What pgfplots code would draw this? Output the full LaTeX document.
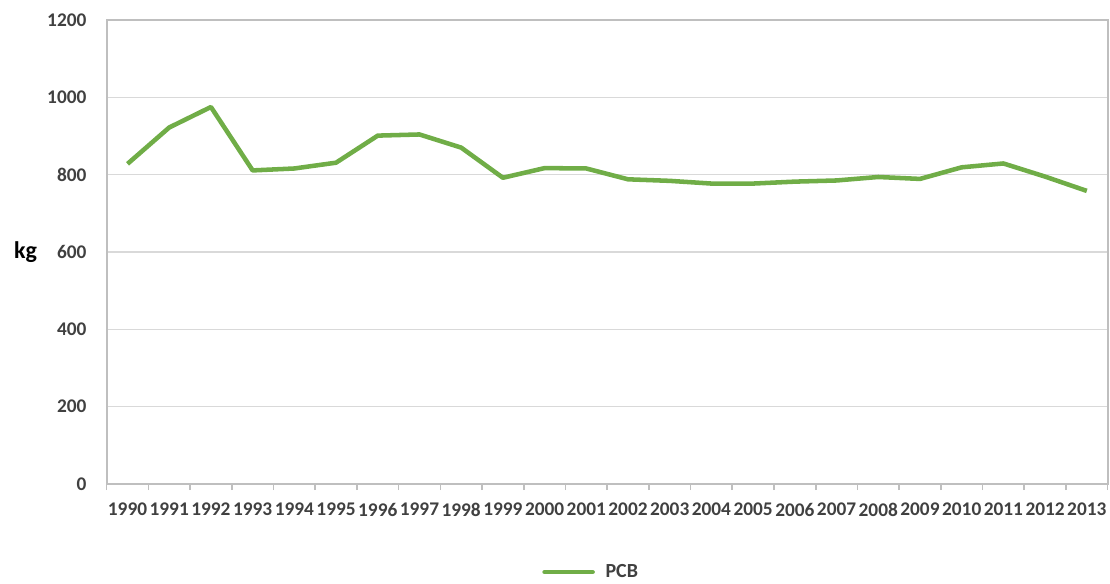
\documentclass[border=0pt]{standalone}
\usepackage{fontspec}
\setmainfont{Carlito}
\usepackage{pgfplots}
\pgfplotsset{compat=1.18}
\definecolor{pcbgreen}{HTML}{70AD47}
\definecolor{axgray}{HTML}{BFBFBF}
\definecolor{gridgray}{HTML}{D9D9D9}
\definecolor{labgray}{HTML}{404040}
\begin{document}
\begin{tikzpicture}[x=1pt,y=1pt]
\useasboundingbox (-80pt,-74.25pt) rectangle (752.5pt,363pt);
\begin{axis}[
  at={(0pt,0pt)}, anchor=south west,
  scale only axis,
  width=750.75pt, height=348pt,
  xmin=-0.5, xmax=23.5, ymin=0, ymax=1200,
  xtick={0,...,23},
  xticklabels={1990,1991,1992,1993,1994,1995,1996,1997,1998,1999,2000,2001,2002,2003,2004,2005,2006,2007,2008,2009,2010,2011,2012,2013},
  minor xtick={-0.5,0.5,...,23.5},
  ytick={0,200,...,1200},
  major tick length=0pt,
  minor tick length=4.5pt,
  xtick align=outside,
  tick pos=left,
  tick style={axgray, line width=1.2pt},
  axis line style={axgray, line width=1.5pt},
  ymajorgrids,
  grid style={gridgray, line width=1pt},
  /pgf/number format/assume math mode=true,
  /pgf/number format/1000 sep={},
  ticklabel style={font=\fontsize{14.5}{16}\selectfont\bfseries, text=labgray, inner sep=0pt},
  yticklabel style={anchor=east, xshift=-15pt},
  xticklabel style={anchor=north, yshift=-14pt},
  ylabel={kg},
  ylabel style={rotate=-90, at={(axis description cs:-0.081,0.5)}, anchor=center, font=\fontsize{18}{20}\selectfont\bfseries, text=black},
  legend style={at={(axis description cs:0.483,-0.19)}, anchor=center, draw=none, fill=none,
    font=\fontsize{15}{17}\selectfont\bfseries, text=labgray, column sep=8pt,
    nodes={inner sep=0pt}},
  legend image code/.code={\draw[#1, line cap=round] (0pt,0pt) -- (36pt,0pt);},
]
\addplot[pcbgreen, line width=3.4pt, line join=round] coordinates {
 (0,828) (1,922) (2,975) (3,811) (4,816) (5,831) (6,901) (7,904) (8,870) (9,792)
 (10,817) (11,816) (12,788) (13,784) (14,777) (15,777) (16,782) (17,785) (18,794)
 (19,789) (20,819) (21,829) (22,795) (23,758)
};
\addlegendentry{PCB}
\end{axis}
\end{tikzpicture}
\end{document}
